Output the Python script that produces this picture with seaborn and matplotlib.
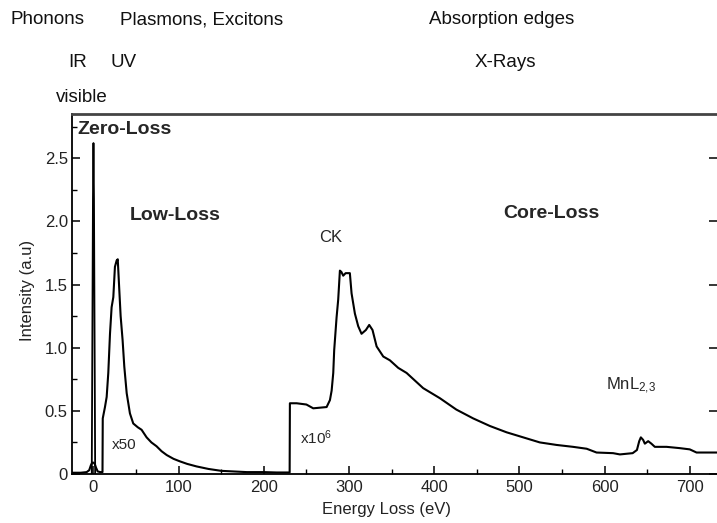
import matplotlib
matplotlib.use("Agg")
import matplotlib.pyplot as plt
from matplotlib.ticker import FixedLocator, MultipleLocator
import pandas as pd
import seaborn as sns

# Zero-loss peak (unscaled)
zl_energy = [-2.0, -0.6, 0.0, 0.6, 2.0]
zl_intensity = [0.0, 2.18, 2.62, 2.18, 0.0]

# Low-loss (x50) followed by core-loss (x10^6) spectrum
energy = [-25, -15, -8, -5, -3, -1.5, 0, 1.5, 3, 5, 8, 10.6, 10.9, 13.5, 15.5,
          17.4, 19.4, 21.3, 23.3, 25.2, 27.2, 28.5, 30.3, 31.9, 34.2, 36.2, 39,
          42.8, 46.7, 52, 56.5, 62.4, 68, 74, 80, 86, 94, 101.5, 110, 121, 135,
          150, 165, 180, 200, 215, 230.3, 230.6, 238.5, 250, 258, 273.7, 277.6,
          279.6, 281.5, 282.6, 285.4, 287.3, 289.3, 291, 293.2, 296, 301, 303,
          306.9, 310.8, 314.7, 319.8, 323.7, 327.6, 332.4, 340.2, 348, 357.8,
          367.6, 387, 406.7, 426, 445.8, 465.4, 485, 504.5, 524, 543.7, 563, 579,
          590.6, 610, 618, 633, 638, 640.7, 642.6, 645.3, 647.3, 651.2, 655, 659,
          672.8, 688, 700, 708, 732]
intensity = [0.01, 0.01, 0.015, 0.03, 0.07, 0.09, 0.09, 0.08, 0.05, 0.02, 0.015,
             0.015, 0.44, 0.53, 0.61, 0.80, 1.11, 1.32, 1.40, 1.64, 1.69, 1.70,
             1.46, 1.25, 1.06, 0.85, 0.64, 0.48, 0.40, 0.37, 0.35, 0.29, 0.25,
             0.22, 0.18, 0.15, 0.12, 0.10, 0.08, 0.06, 0.04, 0.025, 0.02, 0.015,
             0.015, 0.012, 0.012, 0.56, 0.56, 0.55, 0.52, 0.53, 0.585, 0.66,
             0.80, 0.98, 1.24, 1.38, 1.61, 1.60, 1.57, 1.59, 1.59, 1.43, 1.27,
             1.17, 1.11, 1.14, 1.18, 1.14, 1.01, 0.93, 0.90, 0.84, 0.80, 0.68,
             0.60, 0.51, 0.44, 0.38, 0.33, 0.29, 0.25, 0.23, 0.215, 0.20, 0.17,
             0.165, 0.155, 0.165, 0.19, 0.26, 0.29, 0.27, 0.24, 0.26, 0.24,
             0.215, 0.215, 0.205, 0.195, 0.17, 0.17]

x_ticks = [0, 100, 200, 300, 400, 500, 600, 700]
x_tick_labels = ["0", "100", "200", "300", "400", "500", "600", "700"]
y_ticks = [0, 0.5, 1.0, 1.5, 2.0, 2.5]
y_tick_labels = ["0", "0.5", "1.0", "1.5", "2.0", "2.5"]

sns.set_theme(style="ticks")
plt.rcParams["font.family"] = ["Liberation Sans", "DejaVu Sans"]
plt.rcParams["mathtext.fontset"] = "custom"
plt.rcParams["mathtext.rm"] = "Liberation Sans"
plt.rcParams["mathtext.it"] = "Liberation Sans"
plt.rcParams["mathtext.default"] = "rm"

W, H = 717, 523
fig = plt.figure(figsize=(W / 100, H / 100), dpi=100)
ax = fig.add_axes([72 / W, 1 - 474 / H, (W - 72) / W, (474 - 114) / H])

spec = pd.DataFrame({"energy": energy, "intensity": intensity})
zl = pd.DataFrame({"energy": zl_energy, "intensity": zl_intensity})
sns.lineplot(data=zl, x="energy", y="intensity", estimator=None, sort=False,
             color="black", lw=1.3, ax=ax)
sns.lineplot(data=spec, x="energy", y="intensity", estimator=None, sort=False,
             color="black", lw=1.5, ax=ax)

ax.set_xlim(-25.2, 732)
ax.set_ylim(0, 2.85)

ax.xaxis.set_major_locator(FixedLocator(x_ticks))
ax.set_xticklabels(x_tick_labels)
ax.xaxis.set_minor_locator(MultipleLocator(50))
ax.yaxis.set_major_locator(FixedLocator(y_ticks))
ax.set_yticklabels(y_tick_labels)
ax.yaxis.set_minor_locator(MultipleLocator(0.25))

ax.tick_params(axis="both", which="major", direction="in", length=6, width=1.1,
               labelsize=12, color="black", labelcolor="#222222")
ax.tick_params(axis="x", which="major", pad=4)
ax.tick_params(axis="y", which="major", pad=3, right=True, labelright=False)
ax.tick_params(axis="both", which="minor", direction="in", length=3.5, width=1.0,
               color="black")
ax.tick_params(axis="y", which="minor", right=False)

ax.spines["right"].set_visible(False)
for side in ("left", "bottom"):
    ax.spines[side].set_color("black")
    ax.spines[side].set_linewidth(1.3)
ax.spines["top"].set_color("#444444")
ax.spines["top"].set_linewidth(2.0)

ax.set_xlabel("Energy Loss (eV)", fontsize=12, color="#222222")
ax.set_ylabel("Intensity (a.u)", fontsize=12, color="#222222")
ax.xaxis.set_label_coords(0.488, -0.078)
ax.yaxis.set_label_coords(-0.058, 0.51)

# Region and edge annotations inside the plot
ax.text(-19.4, 2.73, "Zero-Loss", fontsize=14, fontweight="bold", va="center", ha="left")
ax.text(42.8, 2.05, "Low-Loss", fontsize=14, fontweight="bold", va="center", ha="left")
ax.text(480.6, 2.06, "Core-Loss", fontsize=14, fontweight="bold", va="center", ha="left")
ax.text(264.7, 1.87, "CK", fontsize=12, va="center", ha="left")
ax.text(601.5, 0.70, r"MnL$_{2{,}3}$", fontsize=12, va="center", ha="left")
ax.text(21.7, 0.23, "x50", fontsize=11, va="center", ha="left")
ax.text(242.4, 0.29, r"x10$^{6}$", fontsize=11, va="center", ha="left")

# Spectral regions above the plot
def top_label(px, py, s):
    fig.text(px / W, 1 - py / H, s, fontsize=13.5, ha="left", va="center", color="#111111")

top_label(11, 20, "Phonons")
top_label(120, 20, "Plasmons, Excitons")
top_label(429, 20, "Absorption edges")
top_label(68, 62, "IR")
top_label(110, 62, "UV")
top_label(475, 62, "X-Rays")
top_label(56, 97, "visible")

fig.savefig("out.png", dpi=100)
